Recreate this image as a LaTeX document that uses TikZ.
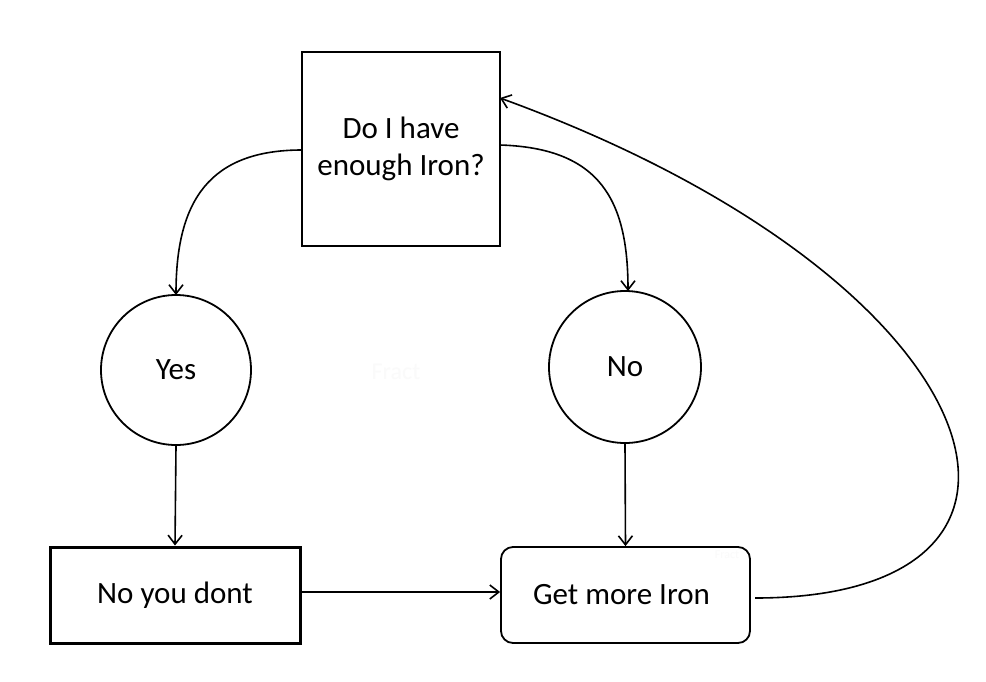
\documentclass[tikz,border=0pt]{standalone}
\usepackage{fontspec}
\setmainfont{Carlito}
\usetikzlibrary{arrows.meta}
\begin{document}
\begin{tikzpicture}[x=1pt,y=-1pt,
  txt/.style={font=\fontsize{31}{37}\selectfont, align=center},
  plainbox/.style={draw, line width=1.8pt, inner sep=0pt},
  circ/.style={draw, circle, line width=1.8pt, inner sep=0pt, minimum size=150pt},
  conn/.style={line width=1.6pt, -{Straight Barb[length=9pt,width=14pt,line width=1.6pt]}},
  wmark/.style={text=black!2}
]
\useasboundingbox (0,0) rectangle (986,681);
\fill[white] (0,0) rectangle (986,681);
\node[plainbox, minimum width=198pt, minimum height=194pt, txt] (q) at (401,149) {Do I have\\enough Iron?};
\node[circ, txt] (yes) at (176,370) {Yes};
\node[circ, minimum size=152pt, txt] (no) at (625,367) {No};
\node[draw, line width=3pt, minimum width=250pt, minimum height=96pt, inner sep=0pt, txt] (dont) at (175,595) {No you dont};
\node[draw, line width=1.8pt, rounded corners=12pt, minimum width=249pt, minimum height=96pt, inner sep=0pt, txt] (get) at (625.5,595) {Get more Iron\hspace{8pt}};
\node[wmark, font=\fontsize{24}{28}\selectfont] (wm1) at (396,372) {Fract};
\node[wmark, font=\fontsize{12}{14}\selectfont] (wm2) at (727,555) {Fract};
\coordinate (qL) at (302,150);
\coordinate (qR) at (500,145);
\coordinate (qR2) at (500,98);
\coordinate (yesT) at (176,295);
\coordinate (noT) at (628,291);
\coordinate (getR) at (755,598);
\draw[conn] (qL) .. controls (210,150) and (176,200) .. (yesT);
\draw[conn] (qR) .. controls (600,148) and (628,200) .. (noT);
\draw[conn] (yes.south) -- (dont.north);
\draw[conn] (no.south) -- (get.north);
\draw[conn] (dont.east |- 0,592) -- (get.west |- 0,592);
\draw[conn] (getR) .. controls (1100,598) and (1000,280) .. (qR2);
\end{tikzpicture}
\end{document}
